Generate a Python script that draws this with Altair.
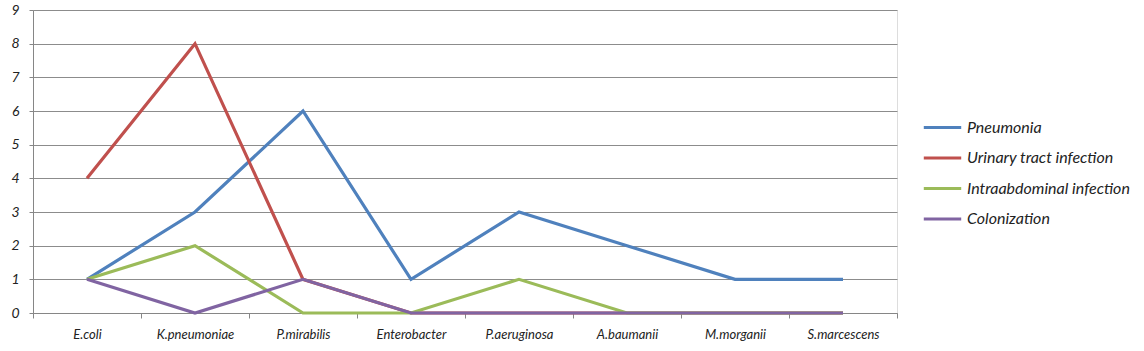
import altair as alt
import pandas as pd

categories = ["E.coli", "K.pneumoniae", "P.mirabilis", "Enterobacter",
              "P.aeruginosa", "A.baumanii", "M.morganii", "S.marcescens"]
series_names = ["Pneumonia", "Urinary tract infection", "Intraabdominal infection", "Colonization"]
pneumonia = [1, 3, 6, 1, 3, 2, 1, 1]
urinary = [4, 8, 1, 0, 0, 0, 0, 0]
intraabdominal = [1, 2, 0, 0, 1, 0, 0, 0]
colonization = [1, 0, 1, 0, 0, 0, 0, 0]
colors = ["#4F81BD", "#C0504D", "#9BBB59", "#8064A2"]

rows = []
for i, (name, vals) in enumerate(zip(series_names, [pneumonia, urinary, intraabdominal, colonization])):
    for c, v in zip(categories, vals):
        rows.append({"organism": c, "value": v, "series": name, "ord": i})
df = pd.DataFrame(rows)

FONT = "Lato"

chart = alt.Chart(df).mark_line(strokeWidth=3.2, strokeJoin="miter").encode(
    x=alt.X("organism:N", sort=categories, title=None, bandPosition=0.5,
            scale=alt.Scale(type="band", paddingInner=0, paddingOuter=0),
            axis=alt.Axis(labelAngle=0, tickBand="extent", grid=False, domainColor="#868686",
                          tickColor="#868686", tickSize=5, labelPadding=10,
                          labelFont=FONT, labelFontStyle="italic", labelFontSize=13,
                          labelColor="#222222")),
    y=alt.Y("value:Q", title=None,
            scale=alt.Scale(domain=[0, 9], nice=False),
            axis=alt.Axis(values=list(range(10)), gridColor="#8c8c8c", domainColor="#868686",
                          tickColor="#868686", tickSize=4, labelPadding=10,
                          labelFont=FONT, labelFontStyle="italic", labelFontSize=14,
                          labelColor="#222222")),
    color=alt.Color("series:N", sort=series_names, title=None,
                    scale=alt.Scale(domain=series_names, range=colors),
                    legend=alt.Legend(orient="none", legendX=889, legendY=97,
                                      symbolType="stroke", symbolStrokeWidth=3, symbolSize=1400,
                                      labelFont=FONT, labelFontStyle="italic", labelFontSize=16,
                                      labelLimit=400,
                                      labelColor="#222222", rowPadding=1.5, labelOffset=4)),
    order=alt.Order("ord:Q"),
    detail="series:N",
).properties(
    width=864, height=303,
    autosize=alt.AutoSizeParams(type="none"),
    padding={"left": 33, "top": 10, "right": 247, "bottom": 38},
).configure_view(stroke=None).configure(background="white")

chart.save("out.html", embed_options={"renderer": "svg", "actions": False})
